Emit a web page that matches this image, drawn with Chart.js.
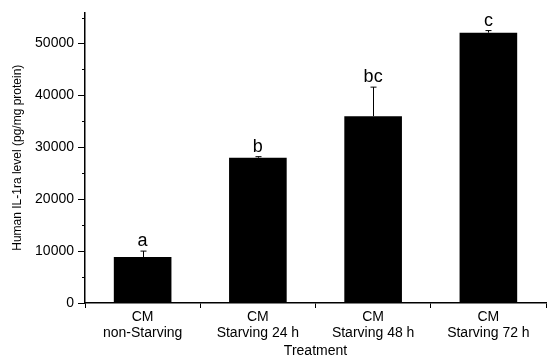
<!DOCTYPE html>
<html>
<head>
<meta charset="utf-8">
<script src="https://cdn.jsdelivr.net/npm/chart.js@4/dist/chart.umd.min.js"></script>
<style>
  html, body { margin: 0; padding: 0; background: #fff; }
  #wrap { width: 547px; height: 360px; }
</style>
</head>
<body>
<div id="wrap"><canvas id="c" width="547" height="360"></canvas></div>
<script>
const categories = [['CM', 'non-Starving'], ['CM', 'Starving 24 h'], ['CM', 'Starving 48 h'], ['CM', 'Starving 72 h']];
const values = [8850, 28000, 36000, 52100];
const errors = [1150, 200, 5600, 400];
const letters = ['a', 'b', 'bc', 'c'];
const yMajorTicks = [0, 10000, 20000, 30000, 40000, 50000];
const yMinorTicks = [5000, 15000, 25000, 35000, 45000, 55000];
const yTitle = 'Human IL-1ra level (pg/mg protein)';
const xTitle = 'Treatment';

const FONT = '"Liberation Sans", Arial, sans-serif';

const errorPlugin = {
  id: 'errorBars',
  afterDatasetsDraw(chart) {
    const ctx = chart.ctx;
    const y = chart.scales.y;
    const meta = chart.getDatasetMeta(0);
    ctx.save();
    ctx.strokeStyle = '#000';
    ctx.lineWidth = 1;
    ctx.fillStyle = '#000';
    ctx.font = '18px ' + FONT;
    ctx.textAlign = 'center';
    ctx.textBaseline = 'alphabetic';
    meta.data.forEach((el, i) => {
      const x = Math.round(el.x) + 0.5;
      const top = y.getPixelForValue(values[i] + errors[i]);
      ctx.beginPath();
      ctx.moveTo(x, el.y);
      ctx.lineTo(x, top);
      ctx.moveTo(x - 3, top);
      ctx.lineTo(x + 3, top);
      ctx.stroke();
      ctx.fillText(letters[i], el.x, top - 5);
    });
    ctx.restore();
  },
  afterDraw(chart) {
    const ctx = chart.ctx;
    const y = chart.scales.y;
    const left = chart.chartArea.left;
    ctx.save();
    ctx.strokeStyle = '#000';
    ctx.lineWidth = 1;
    yMinorTicks.forEach(v => {
      const py = Math.round(y.getPixelForValue(v)) + 0.5;
      ctx.beginPath();
      ctx.moveTo(left - 3, py);
      ctx.lineTo(left, py);
      ctx.stroke();
    });
    ctx.restore();
  }
};

new Chart(document.getElementById('c'), {
  type: 'bar',
  data: {
    labels: categories,
    datasets: [{
      data: values,
      backgroundColor: '#000',
      borderColor: '#000',
      borderWidth: 0,
      barPercentage: 0.5,
      categoryPercentage: 1.0
    }]
  },
  options: {
    responsive: false,
    animation: false,
    devicePixelRatio: 1,
    layout: { padding: { top: 12, right: 1, left: 0, bottom: 0 } },
    plugins: { legend: { display: false }, tooltip: { enabled: false } },
    scales: {
      x: {
        afterFit(scale) { scale.height = 57; },
        grid: { display: true, drawOnChartArea: false, offset: true, tickLength: 5, color: '#000', tickColor: '#000' },
        border: { display: true, color: '#000', width: 1.5 },
        ticks: { color: '#000', font: { family: FONT, size: 14, lineHeight: 1.15 }, padding: 1, maxRotation: 0, autoSkip: false },
        title: { display: true, text: xTitle, color: '#000', font: { family: FONT, size: 14 }, padding: { top: 0, bottom: 0 } }
      },
      y: {
        min: 0,
        max: 56000,
        afterBuildTicks(scale) { scale.ticks = yMajorTicks.map(v => ({ value: v })); },
        afterFit(scale) { scale.width = 85; },
        grid: { display: true, drawOnChartArea: false, tickLength: 7, color: '#000', tickColor: '#000' },
        border: { display: true, color: '#000', width: 1.5 },
        ticks: {
          autoSkip: false, color: '#000', padding: 4,
          font: { family: FONT, size: 14 },
          callback: (v) => String(v)
        },
        title: { display: true, text: yTitle, color: '#000', font: { family: FONT, size: 12 }, padding: { top: 10, bottom: 0 } }
      }
    }
  },
  plugins: [errorPlugin]
});
</script>
</body>
</html>
